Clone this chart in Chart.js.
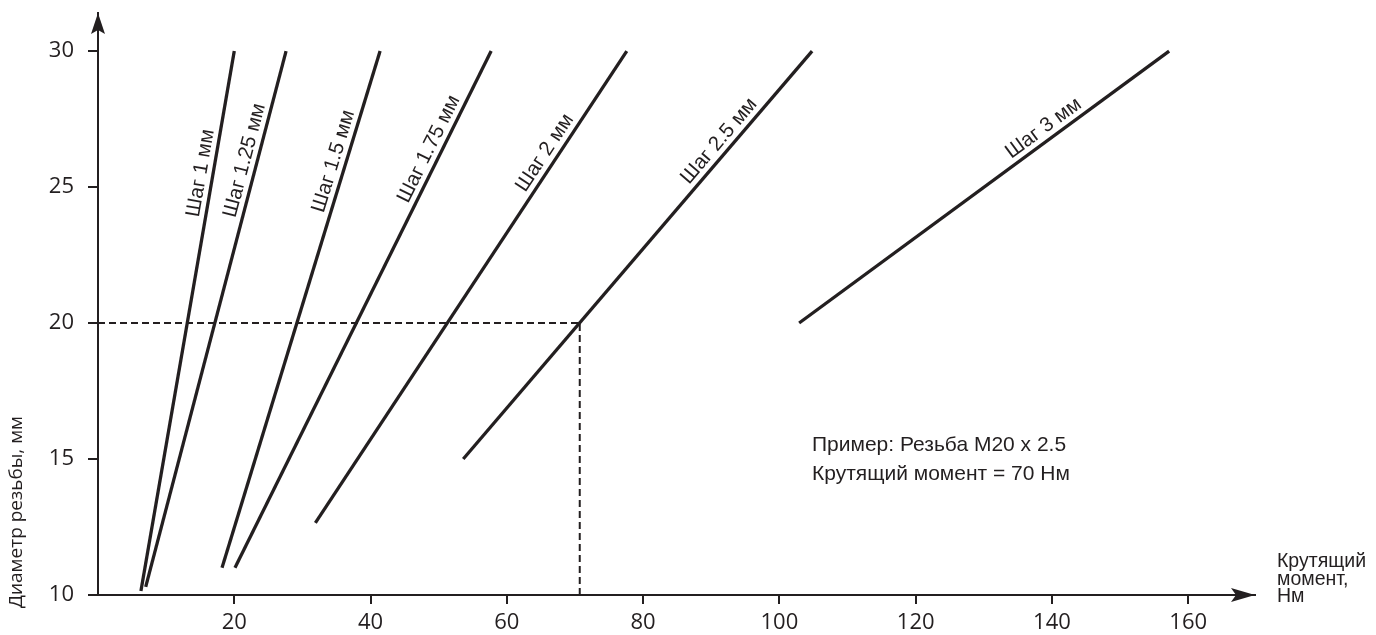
<!DOCTYPE html>
<html>
<head>
<meta charset="utf-8">
<script src="https://cdn.jsdelivr.net/npm/chart.js@4/dist/chart.umd.min.js"></script>
<style>
  html, body { margin: 0; padding: 0; background: #fff; }
  #wrap { width: 1376px; height: 635px; }
</style>
</head>
<body>
<div id="wrap"><canvas id="myChart"></canvas></div>
<script>
// thread pitch lines: torque (Нм) against thread diameter (мм)
var pitchNames = ['Шаг 1 мм', 'Шаг 1.25 мм', 'Шаг 1.5 мм', 'Шаг 1.75 мм', 'Шаг 2 мм', 'Шаг 2.5 мм', 'Шаг 3 мм'];
var torqueStart = [6.3, 7.0, 18.2, 20.1, 31.9, 53.6, 102.9];
var torqueEnd = [20.0, 27.6, 41.4, 57.7, 77.6, 104.8, 157.2];
var diamStart = [10.15, 10.3, 11.0, 11.0, 12.65, 15.0, 20.0];
var diamEnd = [30, 30, 30, 30, 30, 30, 30];

// worked example: M20 x 2.5
var exampleTorque = 70.7;
var exampleDiam = 20;
var exampleText = ['Пример: Резьба М20 x 2.5', 'Крутящий момент = 70 Нм'];

var xTicks = [20, 40, 60, 80, 100, 120, 140, 160];
var yTicks = [10, 15, 20, 25, 30];
var xTitle = ['Крутящий', 'момент,', 'Нм'];
var yTitle = 'Диаметр резьбы, мм';

var ink = '#231f20';
// where along each line (0 = bottom, 1 = top) its label sits
var labelAt = [0.77, 0.79, 0.78, 0.80, 0.77, 0.76, 0.68];

var datasets = [];
for (var i = 0; i < pitchNames.length; i++) {
    datasets.push({
        label: pitchNames[i],
        data: [{x: torqueStart[i], y: diamStart[i]}, {x: torqueEnd[i], y: diamEnd[i]}],
        borderColor: ink,
        borderWidth: 3.3,
        pointRadius: 0,
        borderCapStyle: 'butt'
    });
}
// dashed guides for the example
datasets.push({
    label: 'guide-h',
    data: [{x: 0, y: exampleDiam}, {x: exampleTorque, y: exampleDiam}],
    borderColor: ink, borderWidth: 2, borderDash: [7, 4], pointRadius: 0
});
datasets.push({
    label: 'guide-v',
    data: [{x: exampleTorque, y: 10}, {x: exampleTorque, y: exampleDiam}],
    borderColor: ink, borderWidth: 2, borderDash: [7, 4], pointRadius: 0
});

// text along each pitch line
var lineLabels = {
    id: 'lineLabels',
    afterDatasetsDraw: function(chart) {
        var ctx = chart.ctx;
        ctx.save();
        ctx.fillStyle = ink;
        ctx.font = '20.5px "Liberation Sans", Arial, sans-serif';
        ctx.textAlign = 'center';
        ctx.textBaseline = 'bottom';
        for (var i = 0; i < pitchNames.length; i++) {
            var pts = chart.getDatasetMeta(i).data;
            var a = pts[0], b = pts[1];
            var t = labelAt[i];
            var px = a.x + (b.x - a.x) * t;
            var py = a.y + (b.y - a.y) * t;
            var ang = Math.atan2(b.y - a.y, b.x - a.x);
            ctx.save();
            ctx.translate(px, py);
            ctx.rotate(ang);
            ctx.fillText(pitchNames[i], 0, -2);
            ctx.restore();
        }
        ctx.restore();
    }
};

// arrows, axis titles and the example note
var extras = {
    id: 'extras',
    afterDraw: function(chart) {
        var ctx = chart.ctx;
        var area = chart.chartArea;
        ctx.save();
        ctx.fillStyle = ink;

        // y arrow
        var x0 = area.left, y0 = area.top;
        ctx.beginPath();
        ctx.moveTo(x0, y0);
        ctx.lineTo(x0 + 7, y0 + 21);
        ctx.lineTo(x0, y0 + 17);
        ctx.lineTo(x0 - 7, y0 + 21);
        ctx.closePath();
        ctx.fill();

        // x arrow
        var x1 = area.right, y1 = area.bottom;
        ctx.beginPath();
        ctx.moveTo(x1, y1);
        ctx.lineTo(x1 - 24, y1 - 7);
        ctx.lineTo(x1 - 19, y1);
        ctx.lineTo(x1 - 24, y1 + 7);
        ctx.closePath();
        ctx.fill();

        // y title
        ctx.save();
        ctx.translate(17, 512);
        ctx.rotate(-Math.PI / 2);
        ctx.font = '19px "Open Sans", sans-serif';
        ctx.textAlign = 'center';
        ctx.textBaseline = 'middle';
        ctx.fillText(yTitle, 0, 0);
        ctx.restore();

        // x title
        ctx.font = '19.5px "Liberation Sans", Arial, sans-serif';
        ctx.textAlign = 'left';
        ctx.textBaseline = 'middle';
        for (var k = 0; k < xTitle.length; k++) {
            ctx.fillText(xTitle[k], 1277, 562 + k * 17.5);
        }

        // example note
        ctx.font = '21px "Liberation Sans", Arial, sans-serif';
        ctx.fillText(exampleText[0], 812, 445);
        ctx.fillText(exampleText[1], 812, 474);
        ctx.restore();
    }
};

var ctx = document.getElementById('myChart').getContext('2d');
var myChart = new Chart(ctx, {
    type: 'line',
    data: { datasets: datasets },
    options: {
        responsive: true,
        maintainAspectRatio: false,
        animation: false,
        layout: { padding: { left: 0, right: 121, top: 13, bottom: 0 } },
        plugins: { legend: { display: false }, tooltip: { enabled: false } },
        scales: {
            x: {
                type: 'linear',
                min: 0,
                max: 169.8,
                afterBuildTicks: function(scale) {
                    scale.ticks = xTicks.map(function(v) { return {value: v}; });
                },
                afterFit: function(scale) {
                    scale.height = 40;
                    scale.paddingLeft = 0;
                    scale.paddingRight = 0;
                },
                border: { display: true, color: ink, width: 2 },
                grid: { drawOnChartArea: false, drawTicks: true, tickLength: 9, color: ink, lineWidth: 2 },
                ticks: { color: ink, padding: 6, maxRotation: 0, font: { family: '"Open Sans", sans-serif', size: 22 } }
            },
            y: {
                type: 'linear',
                min: 10,
                max: 31.4,
                afterBuildTicks: function(scale) {
                    scale.ticks = yTicks.map(function(v) { return {value: v}; });
                },
                afterFit: function(scale) {
                    scale.width = 98;
                    scale.paddingTop = 0;
                    scale.paddingBottom = 0;
                },
                border: { display: true, color: ink, width: 2 },
                grid: { drawOnChartArea: false, drawTicks: true, tickLength: 10, color: ink, lineWidth: 2 },
                ticks: { color: ink, padding: 14, font: { family: '"Open Sans", sans-serif', size: 22 } }
            }
        }
    },
    plugins: [lineLabels, extras]
});
</script>
</body>
</html>
